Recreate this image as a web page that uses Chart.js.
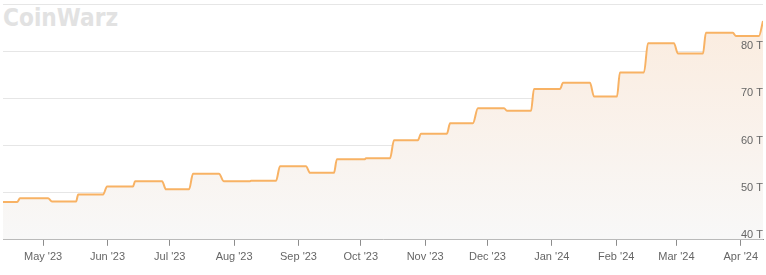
<!DOCTYPE html>
<html>
<head>
<meta charset="utf-8">
<script src="https://cdn.jsdelivr.net/npm/chart.js@4.4.1/dist/chart.umd.min.js"></script>
<style>
  html, body { margin: 0; padding: 0; background: #ffffff; }
  #wrap { position: relative; width: 766px; height: 275px; }
  #logo { position: absolute; left: 3px; top: 5px; font-family: 'DejaVu Sans', sans-serif; font-weight: bold;
          font-size: 25px; line-height: 25px; color: #e2e2e2; letter-spacing: 0px; transform-origin: 0 0; transform: scaleX(0.87); z-index: 0; }
  canvas { position: absolute; left: 0; top: 0; z-index: 1; }
</style>
</head>
<body>
<div id="wrap">
  <div id="logo">CoinWarz</div>
  <canvas id="c" width="766" height="275"></canvas>
</div>
<script>
// Day offsets counted from 1 May 2023
const levelStartDay = [-19.3, -11.1, 4.3, 16.9, 30.8, 44.3, 59.2, 72.2, 87.1, 100.1, 114.1, 128.6, 141.5, 155.5, 169.0, 182.0, 196.0, 209.4, 223.4, 236.4, 250.4, 265.3, 277.8, 291.3, 305.7, 319.2, 333.7, 346.7];
const levelEndDay   = [-12.5, 2.4, 15.9, 28.9, 43.3, 57.3, 70.3, 84.7, 99.7, 112.2, 126.6, 140.1, 155.0, 167.1, 180.5, 194.5, 207.0, 222.0, 235.0, 249.0, 263.4, 276.4, 289.4, 303.8, 317.8, 332.2, 344.7, 346.7];
const difficultyT   = [48.0, 48.8, 48.1, 49.6, 51.3, 52.4, 50.7, 54.0, 52.4, 52.5, 55.6, 54.2, 57.1, 57.3, 61.1, 62.5, 64.7, 67.9, 67.35, 72.0, 73.3, 70.4, 75.5, 81.7, 79.5, 83.9, 83.2, 86.4];

const monthTickDays = [0, 31, 61, 92, 123, 153, 184, 214, 245, 276, 305, 336];
const monthLabels = ["May '23", "Jun '23", "Jul '23", "Aug '23", "Sep '23", "Oct '23", "Nov '23", "Dec '23", "Jan '24", "Feb '24", "Mar '24", "Apr '24"];
const yTicks = [40, 50, 60, 70, 80, 90];

const points = [];
for (let i = 0; i < difficultyT.length; i++) {
  points.push({x: levelStartDay[i], y: difficultyT[i]});
  if (levelEndDay[i] > levelStartDay[i]) points.push({x: levelEndDay[i], y: difficultyT[i]});
}

const FONT = "'Liberation Sans Narrow', 'Arial Narrow', 'Liberation Sans', sans-serif";
const yLabel = (v) => v === 90 ? '' : v + ' T';

// Y tick labels written inside the plot, on top of the area fill, at the y scale's own tick pixels
const yInsideLabels = {
  id: 'yInsideLabels',
  afterDraw(chart) {
    const s = chart.scales.y;
    const ctx = chart.ctx;
    ctx.save();
    ctx.font = '11px ' + FONT;
    ctx.fillStyle = '#666666';
    ctx.textAlign = 'right';
    ctx.textBaseline = 'middle';
    s.ticks.forEach(t => {
      const txt = yLabel(t.value);
      if (txt) ctx.fillText(txt, chart.chartArea.right, s.getPixelForValue(t.value) - 5);
    });
    ctx.restore();
  }
};

new Chart(document.getElementById('c'), {
  type: 'line',
  data: {
    datasets: [{
      data: points,
      borderColor: '#f8b264',
      borderWidth: 2,
      pointRadius: 0,
      cubicInterpolationMode: 'monotone',
      fill: 'start',
      backgroundColor: (ctx) => {
        const ca = ctx.chart.chartArea;
        if (!ca) return 'rgba(250,235,220,0.6)';
        const g = ctx.chart.ctx.createLinearGradient(0, ca.top, 0, ca.bottom);
        g.addColorStop(0, '#fbebdd');
        g.addColorStop(1, '#f8f8f8');
        return g;
      }
    }]
  },
  plugins: [yInsideLabels],
  options: {
    responsive: false,
    animation: false,
    layout: { padding: { left: 3, right: 3, top: 4, bottom: 6 } },
    plugins: { legend: { display: false }, tooltip: { enabled: false } },
    scales: {
      x: {
        type: 'linear',
        min: -19.3,
        max: 346.7,
        afterBuildTicks: (axis) => { axis.ticks = monthTickDays.map(v => ({value: v})); },
        ticks: {
          autoSkip: false,
          maxRotation: 0,
          color: '#666666',
          font: { family: FONT, size: 11 },
          padding: 5,
          callback: (v) => { const i = monthTickDays.indexOf(v); return i >= 0 ? monthLabels[i] : ''; }
        },
        grid: { drawOnChartArea: false, drawTicks: true, tickLength: 6, color: '#8c8c8c' },
        border: { display: true, color: '#8c8c8c', width: 1 }
      },
      y: {
        position: 'right',
        min: 40,
        max: 90,
        afterBuildTicks: (axis) => { axis.ticks = yTicks.map(v => ({value: v})); },
        afterFit: (axis) => { axis.paddingTop = 0; axis.paddingBottom = 0; },
        ticks: { display: false },
        grid: { color: '#e6e6e6', drawTicks: false },
        border: { display: false }
      }
    }
  }
});
</script>
</body>
</html>
